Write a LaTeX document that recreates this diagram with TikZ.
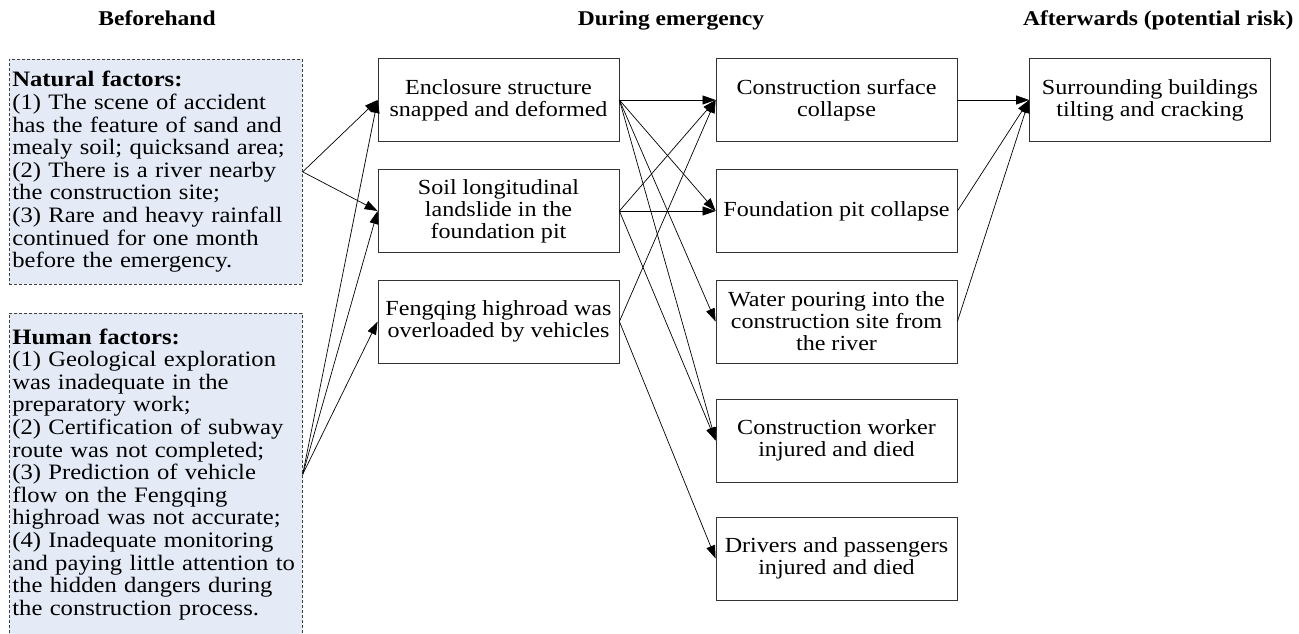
\documentclass[tikz,border=0pt]{standalone}
\usepackage{fontspec}
\setmainfont{Liberation Serif}[FakeStretch=1.12]
\usetikzlibrary{arrows.meta}
\definecolor{factfill}{RGB}{228,234,246}
\begin{document}
\begin{tikzpicture}[x=1pt,y=-1pt,
  box/.style={draw=black!80, line width=0.8pt, minimum width=241pt, minimum height=83pt,
    align=center, inner sep=2pt, font=\fontsize{21.5}{22}\selectfont},
  factor/.style={draw=black!75, dash pattern=on 3pt off 2pt, fill=factfill, line width=0.7pt,
    text width=287pt, align=left, inner sep=3pt, font=\fontsize{22}{22.6}\selectfont,
    anchor=north west},
  hdr/.style={font=\bfseries\fontsize{21}{22}\selectfont},
  arr/.style={-{Triangle[length=13pt,width=9pt]}, line width=0.7pt}]
\clip (0,0) rectangle (1299,634);
% headers
\node[hdr, anchor=base] (h1) at (157,26) {Beforehand};
\node[hdr, anchor=base] (h2) at (671,26) {During emergency};
\node[hdr, anchor=base east] (h3) at (1297,26) {Afterwards (potential risk)};
% left factor boxes
\node[factor, minimum height=225pt] (nat) at (9,59) {\textbf{Natural factors:}\\
(1) The scene of accident\\
has the feature of sand and\\
mealy soil; quicksand area;\\
(2) There is a river nearby\\
the construction site;\\
(3) Rare and heavy rainfall\\
continued for one month\\
before the emergency.};
\node[factor, minimum height=322pt] (hum) at (9,313) {\textbf{Human factors:}\\
(1) Geological exploration\\
was inadequate in the\\
preparatory work;\\
(2) Certification of subway\\
route was not completed;\\
(3) Prediction of vehicle\\
flow on the Fengqing\\
highroad was not accurate;\\
(4) Inadequate monitoring\\
and paying little attention to\\
the hidden dangers during\\
the construction process.};
% column 1
\node[box] (enc) at (498.5,100) {Enclosure structure\\snapped and deformed};
\node[box] (soil) at (498.5,211) {Soil longitudinal\\landslide in the\\foundation pit};
\node[box] (feng) at (498.5,321.5) {Fengqing highroad was\\overloaded by vehicles};
% column 2
\node[box] (cs) at (836.5,100) {Construction surface\\collapse};
\node[box] (fpc) at (836.5,211) {Foundation pit collapse};
\node[box] (water) at (836.5,321.5) {Water pouring into the\\construction site from\\the river};
\node[box] (worker) at (836.5,440.5) {Construction worker\\injured and died};
\node[box] (drv) at (836.5,558.5) {Drivers and passengers\\injured and died};
% column 3
\node[box] (sur) at (1150,100) {Surrounding buildings\\tilting and cracking};
% arrows
\draw[arr] (nat.east) -- (enc.west);
\draw[arr] (nat.east) -- (soil.west);
\draw[arr] (hum.east) -- (enc.west);
\draw[arr] (hum.east) -- (soil.west);
\draw[arr] (hum.east) -- (feng.west);
\draw[arr] (enc.east) -- (cs.west);
\draw[arr] (enc.east) -- (fpc.west);
\draw[arr] (enc.east) -- (water.west);
\draw[arr] (enc.east) -- (worker.west);
\draw[arr] (soil.east) -- (cs.west);
\draw[arr] (soil.east) -- (fpc.west);
\draw[arr] (soil.east) -- (worker.west);
\draw[arr] (feng.east) -- (cs.west);
\draw[arr] (feng.east) -- (drv.west);
\draw[arr] (cs.east) -- (sur.west);
\draw[arr] (fpc.east) -- (sur.west);
\draw[arr] (water.east) -- (sur.west);
\end{tikzpicture}
\end{document}
